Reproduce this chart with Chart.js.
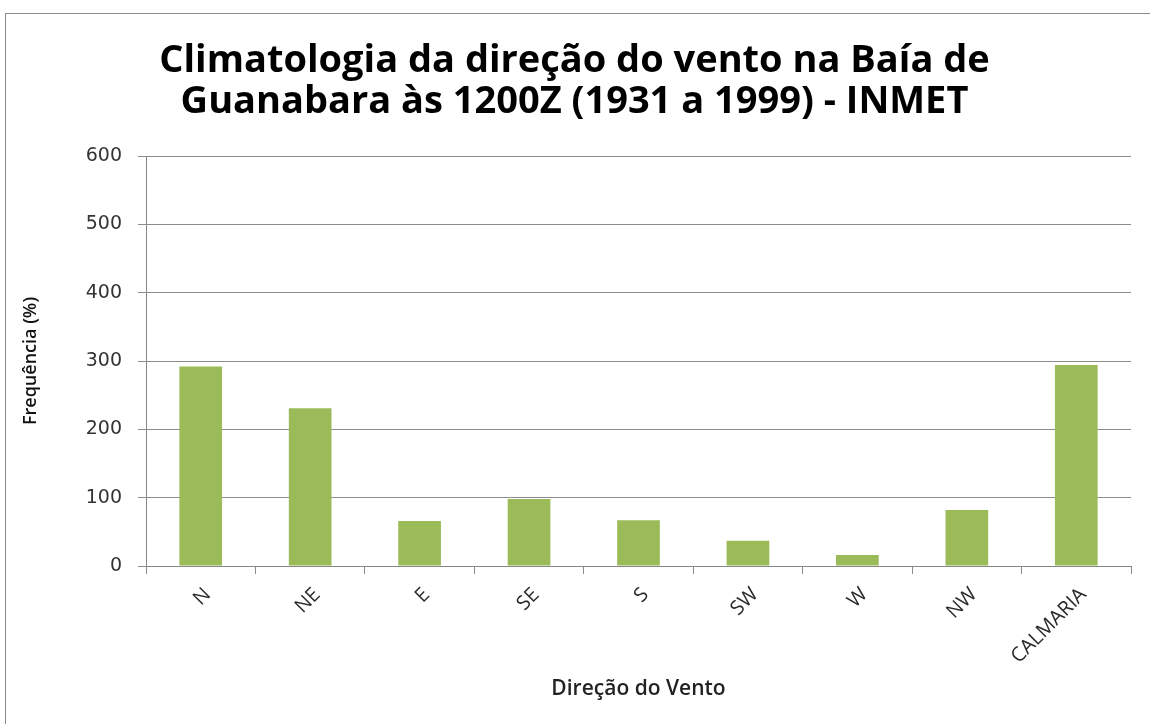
<!DOCTYPE html>
<html>
<head>
<meta charset="utf-8">
<script src="https://cdn.jsdelivr.net/npm/chart.js@4/dist/chart.umd.min.js"></script>
<style>
  html, body { margin:0; padding:0; background:#fff; }
  #wrap { position:relative; width:1150px; height:724px; overflow:hidden; }
  #frame { position:absolute; left:5px; top:13px; width:1200px; height:800px; border:1px solid #8a8a8a; box-sizing:border-box; }
  canvas { position:absolute; left:0; top:0; }
</style>
</head>
<body>
<div id="wrap">
  <div id="frame"></div>
  <canvas id="c" width="1150" height="724"></canvas>
</div>
<script>
const titleLines = ["Climatologia da direção do vento na Baía de", "Guanabara às 1200Z (1931 a 1999) - INMET"];
const categories = ["N", "NE", "E", "SE", "S", "SW", "W", "NW", "CALMARIA"];
const frequencies = [292, 231, 66, 98, 67, 37, 16, 82, 294];
const yAxisTitle = "Frequência (%)";
const xAxisTitle = "Direção do Vento";

new Chart(document.getElementById('c'), {
  type: 'bar',
  data: {
    labels: categories,
    datasets: [{
      data: frequencies,
      backgroundColor: '#9BBB59',
      borderWidth: 0,
      categoryPercentage: 1,
      barPercentage: 0.39
    }]
  },
  options: {
    responsive: false,
    animation: false,
    devicePixelRatio: 1,
    layout: { padding: { left: 18, right: 19, top: 0, bottom: 0 } },
    plugins: {
      legend: { display: false },
      tooltip: { enabled: false },
      title: {
        display: true,
        text: titleLines,
        color: '#000',
        font: { family: 'Open Sans', size: 38, weight: 'bold', lineHeight: 41/38 },
        padding: { top: 41, bottom: 33 }
      }
    },
    scales: {
      x: {
        grid: { display: true, drawOnChartArea: false, drawTicks: true, tickLength: 8, color: '#8a8a8a', offset: true },
        border: { display: true, color: '#868686', width: 1 },
        ticks: {
          color: '#2a2a2a',
          font: { family: 'Open Sans', size: 20 },
          minRotation: 45, maxRotation: 45,
          padding: 9,
          labelOffset: 7,
          autoSkip: false
        },
        title: {
          display: true,
          text: xAxisTitle,
          color: '#222',
          font: { family: 'Open Sans', size: 21, weight: '600' },
          padding: { top: 0, bottom: 22 }
        },
        afterFit: (s) => { s.height = 158; }
      },
      y: {
        min: 0, max: 600,
        grid: { color: '#8c8c8c', lineWidth: 1, drawTicks: true, tickLength: 8 },
        border: { display: true, color: '#868686', width: 1 },
        ticks: {
          stepSize: 100,
          color: '#333',
          font: { family: 'DejaVu Sans', size: 19 },
          padding: 16
        },
        title: {
          display: true,
          text: yAxisTitle,
          color: '#111',
          font: { family: 'Open Sans', size: 18, weight: '600' },
          padding: { top: 2, bottom: 0 }
        },
        afterFit: (s) => { s.width = 128; }
      }
    }
  }
});
</script>
</body>
</html>
